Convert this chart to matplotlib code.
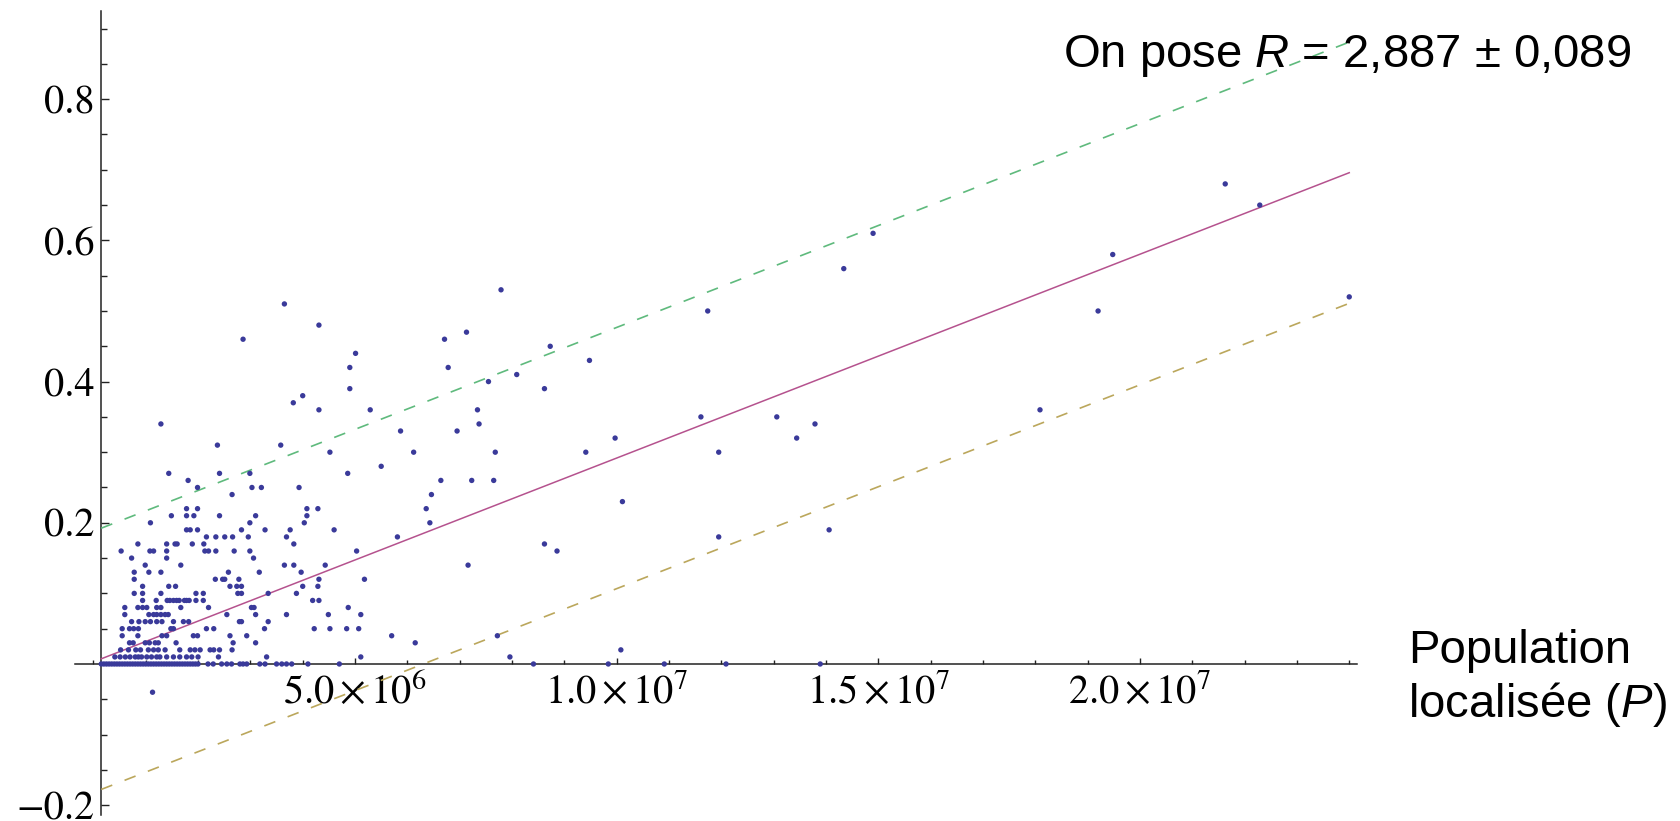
import matplotlib
matplotlib.use("Agg")
import matplotlib.pyplot as plt
import numpy as np

plt.rcParams['mathtext.fontset'] = 'custom'
plt.rcParams['mathtext.rm'] = 'Liberation Sans'
plt.rcParams['mathtext.it'] = 'Liberation Sans:italic'
plt.rcParams['lines.scale_dashes'] = False

# ---------------- data (population in millions, ratio values) ----------------
row_levels = [0.00, 0.01, 0.02, 0.03, 0.04, 0.05, 0.06, 0.07, 0.08, 0.09,
              0.10, 0.11, 0.12, 0.13, 0.14, 0.15, 0.16, 0.17, 0.18, 0.19,
              0.20, 0.21, 0.22, 0.23, 0.24, 0.25, 0.26, 0.27, 0.28, 0.30,
              0.31, 0.32, 0.33, 0.34, 0.35, 0.36, 0.37, 0.38, 0.39, 0.40,
              0.41, 0.42, 0.43, 0.44, 0.45, 0.46, 0.47, 0.48, 0.50, 0.51,
              0.52, 0.53, 0.56, 0.58, 0.61, 0.65, 0.68, -0.04]
row_pops = [
    [0.15, 0.2, 0.25, 0.3, 0.35, 0.4, 0.45, 0.5, 0.55, 0.6, 0.65, 0.7, 0.75, 0.8,
     0.85, 0.9, 0.95, 1.0, 1.05, 1.1, 1.15, 1.2, 1.25, 1.3, 1.35, 1.4, 1.45, 1.5,
     1.55, 1.6, 1.65, 1.7, 1.75, 1.8, 1.85, 1.9, 1.95, 2.0, 2.19, 2.29, 2.45,
     2.55, 2.64, 2.80, 2.86, 2.93, 3.18, 3.28, 3.50, 3.60, 3.69, 3.79, 4.10,
     4.70, 8.41, 9.84, 10.91, 12.09, 13.89],
    [0.41, 0.51, 0.61, 0.70, 0.80, 0.86, 0.92, 1.02, 1.11, 1.21, 1.27, 1.40,
     1.53, 1.65, 1.78, 1.88, 2.00, 2.39, 3.31, 5.11, 7.96],
    [0.52, 0.67, 0.81, 0.90, 1.05, 1.15, 1.24, 1.37, 1.65, 1.85, 1.94, 2.04,
     2.23, 2.30, 2.41, 2.65, 10.08],
    [0.69, 0.76, 0.99, 1.07, 1.18, 1.24, 1.58, 2.67, 3.10, 6.15],
    [0.55, 0.85, 1.31, 1.40, 1.91, 1.99, 2.61, 2.93, 5.70, 7.72],
    [0.55, 0.69, 0.77, 0.86, 1.48, 1.53, 2.16, 2.30, 3.27, 4.22, 4.52, 4.84, 5.07],
    [0.73, 0.87, 0.99, 1.09, 1.21, 1.31, 1.53, 1.72, 1.82, 2.79, 2.83, 3.34],
    [0.60, 1.06, 1.15, 1.21, 1.29, 1.37, 1.43, 2.55, 3.10, 3.69, 4.49, 5.11],
    [0.60, 0.85, 0.94, 1.02, 1.21, 1.29, 1.67, 2.20, 3.02, 3.07, 4.87],
    [0.94, 1.20, 1.41, 1.46, 1.53, 1.59, 1.64, 1.74, 1.78, 1.83, 1.96, 2.10, 4.19, 4.31],
    [0.78, 0.94, 1.29, 1.96, 2.10, 2.76, 2.83, 3.34, 3.88],
    [0.94, 1.44, 1.57, 2.61, 2.74, 2.83, 4.00, 4.29],
    [0.78, 2.33, 2.47, 2.51, 2.78, 4.31, 5.18],
    [0.78, 1.06, 1.29, 2.58, 3.17, 3.97],
    [0.99, 1.67, 3.65, 3.83, 4.43, 7.16],
    [0.73, 1.40, 3.06],
    [0.53, 1.08, 1.15, 1.40, 2.13, 2.20, 2.34, 2.69, 2.99, 5.03, 8.86],
    [0.85, 1.40, 1.56, 1.60, 1.89, 2.11, 3.83, 8.62],
    [2.16, 2.34, 2.51, 2.66, 2.96, 3.69, 5.81, 11.95],
    [1.78, 1.85, 1.99, 2.83, 3.28, 3.76, 4.60, 14.06],
    [1.09, 2.99, 4.03, 6.43],
    [1.49, 1.78, 1.92, 2.41, 3.10, 4.08],
    [1.78, 1.99, 4.08, 4.29, 6.36],
    [10.11],
    [2.65, 6.46],
    [1.99, 3.03, 3.21, 3.93],
    [1.81, 6.64, 7.23, 7.65],
    [1.44, 2.41, 2.99, 4.86],
    [5.50],
    [4.52, 6.12, 7.68, 9.41, 11.95],
    [2.37, 3.58],
    [9.97, 13.44],
    [5.87, 6.95],
    [1.29, 7.37, 13.79],
    [11.61, 13.06],
    [4.31, 5.29, 7.34, 18.09],
    [3.82],
    [4.00],
    [4.90, 8.62],
    [7.55],
    [8.09],
    [4.90, 6.78],
    [9.48],
    [5.01],
    [8.73],
    [2.86, 6.71],
    [7.13],
    [4.31],
    [11.74, 19.20],
    [3.65],
    [24.0],
    [7.79],
    [14.34],
    [19.48],
    [14.90],
    [22.29],
    [21.63],
    [1.13],
]

# fit  y = R * 1e-8 * P + b, with band of half-width `band`
R_value = 2.887
fit_intercept = 0.003
band_halfwidth = 0.185

x_tick_values = [5e6, 1e7, 1.5e7, 2e7]
x_tick_labels = [r'$5.0\times10^{6}$', r'$1.0\times10^{7}$',
                 r'$1.5\times10^{7}$', r'$2.0\times10^{7}$']
y_tick_values = [-0.2, 0.2, 0.4, 0.6, 0.8]
y_tick_labels = ['\u22120.2', '0.2', '0.4', '0.6', '0.8']

# ---------------- build arrays ----------------
pop = np.concatenate([np.array(p) for p in row_pops]) * 1e6
ratio = np.concatenate([np.full(len(p), lv) for p, lv in zip(row_pops, row_levels)])

W, H = 1681, 821
fig = plt.figure(figsize=(W / 100, H / 100), dpi=100)
ax = fig.add_axes([0, 0, 1, 1])
ax.set_xlim(-1.785e6, 30.34e6)
ax.set_ylim(-0.2224, 0.9405)

x_min, x_max = pop.min(), pop.max()

for s in ['top', 'right']:
    ax.spines[s].set_visible(False)
ax.spines['left'].set_position(('data', x_min))
ax.spines['bottom'].set_position(('data', 0))
ax.spines['left'].set_bounds(-0.214, 0.925)
ax.spines['bottom'].set_bounds(-0.357e6, 24.15e6)
for s in ['left', 'bottom']:
    ax.spines[s].set_linewidth(1.1)
    ax.spines[s].set_color('#222222')

# ticks
ax.set_xticks(x_tick_values, labels=x_tick_labels)
minor_x = [v * 1e6 for v in range(0, 25) if v % 5 != 0 or v == 0]
ax.set_xticks(minor_x, minor=True)
ax.set_yticks(y_tick_values, labels=y_tick_labels)
minor_y = [round(v, 2) for v in np.arange(-0.2, 0.901, 0.05)
           if round(v, 2) not in (-0.2, 0.0, 0.2, 0.4, 0.6, 0.8)]
ax.set_yticks(minor_y, minor=True)

ax.tick_params(axis='x', which='major', direction='in', length=4.5, width=1.0,
               pad=6, color='#222222')
ax.tick_params(axis='x', which='minor', direction='in', length=3.0, width=1.0,
               color='#222222')
ax.tick_params(axis='y', which='major', direction='in', length=5.5, width=1.0,
               pad=5, color='#222222')
ax.tick_params(axis='y', which='minor', direction='in', length=4.0, width=1.0,
               color='#222222')
for lab in ax.get_xticklabels():
    lab.set_math_fontfamily('stix')
    lab.set_fontsize(29)
    lab.set_color('black')
for lab in ax.get_yticklabels():
    lab.set_family('STIXGeneral')
    lab.set_fontsize(29)
    lab.set_color('black')

# lines
xs = np.array([x_min, x_max])
fit = R_value * 1e-8 * xs + fit_intercept
ax.plot(xs, fit, color='#b5528e', lw=1.1, zorder=3)
ax.plot(xs, fit + band_halfwidth, color='#5fba7d', lw=1.2, dashes=(8.5, 9.5), zorder=3)
ax.plot(xs, fit - band_halfwidth, color='#bba75c', lw=1.2, dashes=(8.5, 9.5), zorder=3)

# points
ax.scatter(pop, ratio, s=15, color='#3a3a9a', edgecolors='none', zorder=4)

# annotations
fig.text(1063 / W, 1 - 67 / H, 'On pose $R$ = 2,887 ± 0,089', fontsize=34,
         family='Liberation Sans', va='baseline', ha='left', math_fontfamily='custom')
fig.text(1408 / W, 1 - 663 / H, 'Population', fontsize=34,
         family='Liberation Sans', va='baseline', ha='left')
fig.text(1408 / W, 1 - 717 / H, 'localisée ($P$)', fontsize=34,
         family='Liberation Sans', va='baseline', ha='left', math_fontfamily='custom')

fig.savefig('out.png', dpi=100)
